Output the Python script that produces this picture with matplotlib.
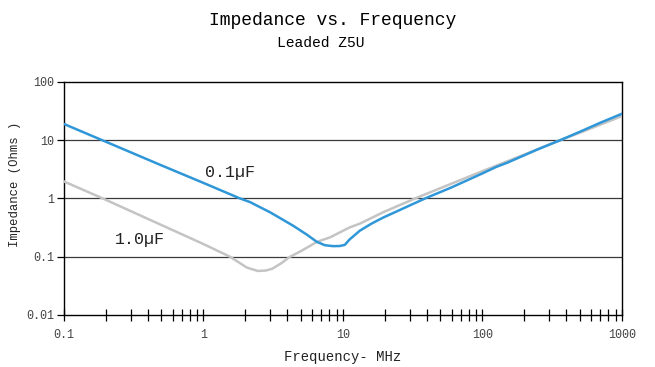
import matplotlib.pyplot as plt
from matplotlib.ticker import FixedLocator, NullFormatter, NullLocator

# values (frequency in MHz, impedance in ohms)
freq_01uf = [0.1, 0.2, 0.5, 1, 1.83, 2.15, 3, 3.72, 4.4, 5.5, 6.5, 7.4, 8.5, 9.5, 10.3, 11.2, 12, 13.2, 16, 19.4, 25, 38.7, 60, 100, 126, 150, 250, 360, 500, 700, 1000]
z_01uf = [19, 9.4, 3.7, 1.85, 1.0, 0.87, 0.58, 0.43, 0.34, 0.24, 0.18, 0.158, 0.152, 0.153, 0.16, 0.2, 0.23, 0.28, 0.37, 0.47, 0.62, 1.0, 1.55, 2.7, 3.5, 4.1, 7.0, 10, 14, 20, 28.5]

freq_1uf = [0.1, 0.19, 0.5, 1, 1.55, 2.05, 2.45, 2.8, 3.1, 3.6, 4.17, 5, 6.5, 8.07, 11.2, 13.2, 19.4, 32.8, 60, 100, 200, 360, 500, 700, 1000]
z_1uf = [1.96, 1.0, 0.35, 0.165, 0.1, 0.065, 0.057, 0.058, 0.062, 0.077, 0.1, 0.125, 0.18, 0.215, 0.32, 0.37, 0.58, 1.0, 1.8, 2.95, 5.7, 10, 13.5, 18.5, 26]

x_ticks = [0.1, 1, 10, 100, 1000]
x_tick_labels = ["0.1", "1", "10", "100", "1000"]
y_ticks = [0.01, 0.1, 1, 10, 100]
y_tick_labels = ["0.01", "0.1", "1", "10", "100"]

plt.rcParams['font.family'] = ['Liberation Mono', 'DejaVu Sans Mono']

fig = plt.figure(figsize=(6.55, 3.67), dpi=100)
ax = fig.add_axes([0.0977, 0.1417, 0.8519, 0.6349])

ax.plot(freq_1uf, z_1uf, color="#c4c4c4", lw=1.8, zorder=3)
ax.plot(freq_01uf, z_01uf, color="#2f97d8", lw=1.8, zorder=4)

ax.set_xscale("log")
ax.set_yscale("log")
ax.set_xlim(0.1, 1000)
ax.set_ylim(0.01, 100)

for g in [0.1, 1, 10]:
    ax.axhline(g, color="#3a3a3a", lw=0.9, zorder=2)

ax.set_xticks(x_ticks)
ax.set_xticklabels(x_tick_labels)
ax.set_yticks(y_ticks)
ax.set_yticklabels(y_tick_labels)
ax.yaxis.set_minor_locator(NullLocator())
minor = [m * 10.0**e for e in range(-1, 3) for m in range(2, 10)]
ax.xaxis.set_minor_locator(FixedLocator(minor))
ax.xaxis.set_minor_formatter(NullFormatter())

ax.tick_params(axis="x", which="both", direction="inout", length=8, width=0.9,
               labelsize=8.5, pad=6, colors="black", labelcolor="#444444")
ax.tick_params(axis="y", which="major", direction="out", length=5, width=0.9,
               labelsize=8.5, pad=2, labelcolor="#444444")
for s in ax.spines.values():
    s.set_linewidth(1.0)

ax.set_xlabel("Frequency- MHz", fontsize=10, color="#222222", va="center")
ax.xaxis.set_label_coords(0.5, -0.18)
ax.set_ylabel("Impedance (Ohms )", fontsize=8.8, color="#222222", va="center")
ax.yaxis.set_label_coords(-0.088, 0.56)

ax.text(1.03, 2.8, "0.1µF", fontsize=12, va="center", ha="left", color="#222222")
ax.text(0.23, 0.196, "1.0µF", fontsize=12, va="center", ha="left", color="#222222")

fig.text(0.5085, 0.945, "Impedance vs. Frequency", fontsize=13, ha="center", va="center")
fig.text(0.49, 0.882, "Leaded Z5U", fontsize=10.5, ha="center", va="center")

fig.savefig("out.png", dpi=100)
plt.close()
